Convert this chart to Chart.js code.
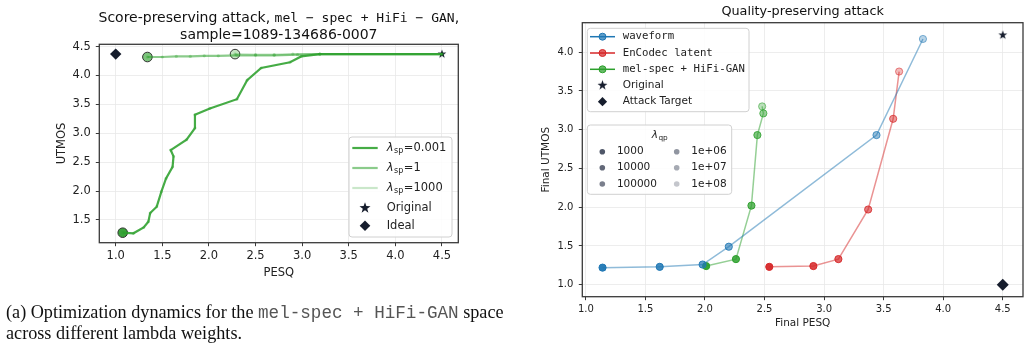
<!DOCTYPE html>
<html>
<head>
<meta charset="utf-8">
<script src="https://cdn.jsdelivr.net/npm/chart.js@4.4.0/dist/chart.umd.min.js"></script>
<style>
  body { margin: 0; width: 1030px; height: 349px; background: #fff; position: relative; overflow: hidden; }
  #boxLeft { position: absolute; left: 0; top: 0; width: 515px; height: 290px; }
  #boxRight { position: absolute; left: 520px; top: 0; width: 510px; height: 349px; }
  #caption { position: absolute; left: 6px; top: 302px; width: 520px; font-family: "Liberation Serif", "Times New Roman", serif; font-size: 18.2px; line-height: 20px; color: #111; white-space: nowrap; }
  #caption .tt { font-family: "Liberation Mono", monospace; color: #555; font-size: 17.6px; }
</style>
</head>
<body>
<div id="boxLeft"><canvas id="leftChart" width="515" height="290"></canvas></div>
<div id="boxRight"><canvas id="rightChart" width="510" height="349"></canvas></div>
<div id="caption">(a) Optimization dynamics for the <span class="tt">mel-spec + HiFi-GAN</span> space<br>across different lambda weights.</div>

<script>
// ---- Données : graphique de gauche (trajectoires, de l'original vers le point final)
const lambdaSpLabels = ['0.001', '1', '1000'];
const pesqSp0001 = [4.5, 3.19, 2.99, 2.87, 2.56, 2.41, 2.30, 2.01, 1.85, 1.85, 1.76, 1.59, 1.62, 1.61, 1.54, 1.49, 1.44, 1.37, 1.35, 1.30, 1.19, 1.075];
const utmosSp0001 = [4.37, 4.37, 4.33, 4.23, 4.13, 3.92, 3.59, 3.43, 3.32, 3.09, 2.89, 2.71, 2.60, 2.42, 2.22, 1.99, 1.73, 1.62, 1.47, 1.37, 1.27, 1.28];
const pesqSp1 = [4.5, 3.19, 2.95, 2.7, 2.5, 2.3, 2.1, 1.95, 1.8, 1.65, 1.5, 1.34];
const utmosSp1 = [4.37, 4.37, 4.36, 4.35, 4.35, 4.35, 4.34, 4.34, 4.33, 4.33, 4.32, 4.32];
const pesqSp1000 = [4.5, 3.19, 2.9, 2.7, 2.5, 2.28];
const utmosSp1000 = [4.37, 4.37, 4.37, 4.36, 4.36, 4.37];
const originalLeft = { x: 4.5, y: 4.37 };
const idealLeft = { x: 1.0, y: 4.37 };
const pesqTicksLeft = [1.0, 1.5, 2.0, 2.5, 3.0, 3.5, 4.0, 4.5];
const utmosTicksLeft = [1.5, 2.0, 2.5, 3.0, 3.5, 4.0, 4.5];

// ---- Données : graphique de droite (un point par lambda_qp)
const lambdaQpLabels = ['1000', '10000', '100000', '1e+06', '1e+07', '1e+08'];
const seriesNames = ['waveform', 'EnCodec latent', 'mel-spec + HiFi-GAN'];
const pesqWaveform = [1.14, 1.62, 1.98, 2.20, 3.44, 3.83];
const utmosWaveform = [1.22, 1.23, 1.26, 1.49, 2.93, 4.17];
const pesqEncodec = [2.54, 2.91, 3.12, 3.37, 3.58, 3.63];
const utmosEncodec = [1.23, 1.24, 1.33, 1.97, 3.14, 3.75];
const pesqMelspec = [2.01, 2.26, 2.39, 2.44, 2.49, 2.48];
const utmosMelspec = [1.24, 1.33, 2.02, 2.93, 3.21, 3.30];
const originalRight = { x: 4.5, y: 4.22 };
const targetRight = { x: 4.5, y: 1.0 };
const pesqTicksRight = [1.0, 1.5, 2.0, 2.5, 3.0, 3.5, 4.0, 4.5];
const utmosTicksRight = [1.0, 1.5, 2.0, 2.5, 3.0, 3.5, 4.0];

// ---- Styles
const SANS = '"DejaVu Sans", sans-serif';
const MONO = '"DejaVu Sans Mono", monospace';
const NAVY = '#161d2d';
const FRAME = '#3a3a3a';
const GRID = '#e9e9e9';
const greenLeft = ['rgba(44,160,44,0.88)', 'rgba(44,160,44,0.55)', 'rgba(44,160,44,0.25)'];
const greenEnd = ['#3aa33a', '#7cc47c', '#c4e4c1'];
const seriesRgb = ['31,119,180', '214,39,40', '44,160,44'];
const qpAlpha = [0.95, 0.85, 0.72, 0.6, 0.48, 0.32];

Chart.defaults.font.family = SANS;
Chart.defaults.color = '#222';

function zip(xs, ys) { return xs.map((x, i) => ({ x: x, y: ys[i] })); }
function last(arr) { return arr[arr.length - 1]; }

// étoile pleine, utilisée comme pointStyle
function starImage(r, color) {
  const c = document.createElement('canvas');
  const s = Math.ceil(r * 2 + 2);
  c.width = s; c.height = s;
  const g = c.getContext('2d');
  g.fillStyle = color;
  g.beginPath();
  for (let i = 0; i < 10; i++) {
    const rad = i % 2 ? r * 0.4 : r;
    const ang = -Math.PI / 2 + i * Math.PI / 5;
    g.lineTo(s / 2 + rad * Math.cos(ang), s / 2 + rad * Math.sin(ang));
  }
  g.closePath();
  g.fill();
  return c;
}

function drawFrame(chart) {
  const { ctx, chartArea: a } = chart;
  ctx.save();
  ctx.strokeStyle = FRAME;
  ctx.lineWidth = 1.3;
  ctx.strokeRect(a.left, a.top, a.right - a.left, a.bottom - a.top);
  ctx.restore();
}

function legendBox(ctx, x, y, w, h) {
  ctx.save();
  ctx.fillStyle = 'rgba(255,255,255,0.85)';
  ctx.strokeStyle = '#d0d0d0';
  ctx.lineWidth = 1;
  ctx.beginPath();
  ctx.roundRect(x, y, w, h, 3);
  ctx.fill();
  ctx.stroke();
  ctx.restore();
}

function drawDiamond(ctx, x, y, r, color) {
  ctx.fillStyle = color;
  ctx.beginPath();
  ctx.moveTo(x - r, y); ctx.lineTo(x, y - r); ctx.lineTo(x + r, y); ctx.lineTo(x, y + r);
  ctx.closePath();
  ctx.fill();
}

// λ en italique avec indice
function drawLambda(ctx, x, y, sub, rest, size) {
  ctx.font = 'italic ' + size + 'px ' + SANS;
  ctx.fillText('λ', x, y);
  x += ctx.measureText('λ').width + 0.5;
  ctx.font = (size * 0.7) + 'px ' + SANS;
  ctx.fillText(sub, x, y + size * 0.28);
  x += ctx.measureText(sub).width + 0.5;
  if (rest) {
    ctx.font = size + 'px ' + SANS;
    ctx.fillText(rest, x, y);
  }
}

function scaleOpts(min, max, ticksList, label, fontSize, side) {
  const isX = side === 'x';
  return {
    type: 'linear',
    min: min,
    max: max,
    afterBuildTicks: s => { s.ticks = ticksList.map(v => ({ value: v })); },
    ticks: { callback: v => v.toFixed(1), color: '#222', font: { size: fontSize }, padding: isX ? 3 : 5 },
    grid: { color: GRID, lineWidth: 0.8, tickColor: FRAME, tickLength: 3.5, tickWidth: 1 },
    border: { display: false },
    title: { display: true, text: label, color: '#222', font: { size: fontSize } }
  };
}

// ---------------- Graphique de gauche
const leftPlugin = {
  id: 'leftDecor',
  afterDraw(chart) {
    const ctx = chart.ctx;
    const a = chart.chartArea;
    drawFrame(chart);

    // titre sur deux lignes, police mixte
    ctx.save();
    ctx.fillStyle = '#111';
    ctx.textBaseline = 'middle';
    const parts = [['Score-preserving attack, ', '14px ' + SANS], ['mel − spec + HiFi − GAN', '13px ' + MONO], [',', '14px ' + SANS]];
    let total = 0;
    parts.forEach(p => { ctx.font = p[1]; total += ctx.measureText(p[0]).width; });
    let x = (a.left + a.right) / 2 - total / 2;
    parts.forEach(p => { ctx.font = p[1]; ctx.fillText(p[0], x, 18.5); x += ctx.measureText(p[0]).width; });
    ctx.font = '14px ' + SANS;
    ctx.textAlign = 'center';
    ctx.fillText('sample=1089-134686-0007', (a.left + a.right) / 2, 35);
    ctx.restore();

    // légende
    const bw = 103, bh = 100;
    const bx = a.right - 6.3 - bw, by = a.bottom - 5.7 - bh;
    legendBox(ctx, bx, by, bw, bh);
    ctx.save();
    ctx.textBaseline = 'middle';
    ctx.fillStyle = '#222';
    const rows = [11, 31, 51, 71, 88.7];
    lambdaSpLabels.forEach((lab, i) => {
      ctx.strokeStyle = greenLeft[i];
      ctx.lineWidth = 2.2;
      ctx.beginPath();
      ctx.moveTo(bx + 3.3, by + rows[i]);
      ctx.lineTo(bx + 28.7, by + rows[i]);
      ctx.stroke();
      ctx.fillStyle = '#222';
      drawLambda(ctx, bx + 37.7, by + rows[i], 'sp', '=' + lab, 11.5);
    });
    const st = starImage(5.8, NAVY);
    ctx.drawImage(st, bx + 16 - st.width / 2, by + rows[3] - st.height / 2);
    drawDiamond(ctx, bx + 16, by + rows[4], 5.3, NAVY);
    ctx.fillStyle = '#222';
    ctx.font = '11.5px ' + SANS;
    ctx.fillText('Original', bx + 37.7, by + rows[3]);
    ctx.fillText('Ideal', bx + 37.7, by + rows[4]);
    ctx.restore();
  }
};

const leftPaths = [[pesqSp0001, utmosSp0001], [pesqSp1, utmosSp1], [pesqSp1000, utmosSp1000]];
const leftDatasets = [];
[2, 1, 0].forEach(i => {
  leftDatasets.push({
    data: zip(leftPaths[i][0], leftPaths[i][1]),
    showLine: true,
    borderColor: greenLeft[i],
    borderWidth: 2.2,
    pointRadius: 1.6,
    pointBorderWidth: 0,
    pointBackgroundColor: greenLeft[i].replace(/[\d.]+\)$/, '0.3)')
  });
});
[2, 1, 0].forEach(i => {
  leftDatasets.push({
    data: [{ x: last(leftPaths[i][0]), y: last(leftPaths[i][1]) }],
    pointRadius: 4.8,
    pointBackgroundColor: greenEnd[i],
    pointBorderColor: '#333',
    pointBorderWidth: 1
  });
});
leftDatasets.push({ data: [originalLeft], pointStyle: starImage(4.6, NAVY) });
leftDatasets.push({ data: [idealLeft], pointStyle: 'rectRot', pointRadius: 5.7, pointBackgroundColor: NAVY, pointBorderWidth: 0 });

const lx = scaleOpts(0.824, 4.675, pesqTicksLeft, 'PESQ', 11.5, 'x');
lx.title.padding = { top: 0, bottom: 9.8 };
lx.afterFit = s => { s.height = 47.3; };
const ly = scaleOpts(1.107, 4.54, utmosTicksLeft, 'UTMOS', 11.5, 'y');
ly.title.padding = { top: 54.8, bottom: 0 };
ly.afterFit = s => { s.width = 99.3; };

new Chart(document.getElementById('leftChart'), {
  type: 'scatter',
  data: { datasets: leftDatasets },
  options: {
    responsive: false,
    animation: false,
    events: [],
    layout: { padding: { top: 44.3, right: 56.7, left: 0, bottom: 0 } },
    plugins: { legend: { display: false }, tooltip: { enabled: false } },
    scales: { x: lx, y: ly }
  },
  plugins: [leftPlugin]
});

// ---------------- Graphique de droite
const rightPlugin = {
  id: 'rightDecor',
  afterDraw(chart) {
    const ctx = chart.ctx;
    const a = chart.chartArea;
    drawFrame(chart);

    ctx.save();
    ctx.fillStyle = '#111';
    ctx.textBaseline = 'middle';
    ctx.textAlign = 'center';
    ctx.font = '12.8px ' + SANS;
    ctx.fillText('Quality-preserving attack', (a.left + a.right) / 2, 12);
    ctx.restore();

    // légende des séries
    const bx = a.left + 5, by = a.top + 5.6;
    legendBox(ctx, bx, by, 161.7, 83.4);
    ctx.save();
    ctx.textBaseline = 'middle';
    const rows = [8.4, 24.7, 41, 57, 73.4];
    seriesNames.forEach((name, i) => {
      const y = by + rows[i];
      ctx.strokeStyle = 'rgb(' + seriesRgb[i] + ')';
      ctx.lineWidth = 1.5;
      ctx.beginPath();
      ctx.moveTo(bx + 2.7, y); ctx.lineTo(bx + 27.7, y);
      ctx.stroke();
      ctx.fillStyle = 'rgba(' + seriesRgb[i] + ',0.72)';
      ctx.beginPath();
      ctx.arc(bx + 15.2, y, 3.5, 0, Math.PI * 2);
      ctx.fill();
      ctx.lineWidth = 1;
      ctx.stroke();
      ctx.fillStyle = '#222';
      ctx.font = '10.7px ' + MONO;
      ctx.fillText(name, bx + 35.4, y);
    });
    const st = starImage(5.2, NAVY);
    ctx.drawImage(st, bx + 15.2 - st.width / 2, by + rows[3] - st.height / 2);
    drawDiamond(ctx, bx + 15.2, by + rows[4], 4.6, NAVY);
    ctx.fillStyle = '#222';
    ctx.font = '10.5px ' + SANS;
    ctx.fillText('Original', bx + 35.4, by + rows[3]);
    ctx.fillText('Attack Target', bx + 35.4, by + rows[4]);
    ctx.restore();

    // légende lambda_qp
    const qx = a.left + 5, qy = a.top + 102.3;
    legendBox(ctx, qx, qy, 144.4, 69.3);
    ctx.save();
    ctx.textBaseline = 'middle';
    ctx.fillStyle = '#222';
    ctx.font = 'italic 10.5px ' + SANS;
    const wl = ctx.measureText('λ').width;
    ctx.font = (10.5 * 0.7) + 'px ' + SANS;
    const ws = ctx.measureText('qp').width;
    drawLambda(ctx, qx + 72.7 - (wl + ws + 1) / 2, qy + 10, 'qp', '', 10.5);
    const qRows = [26.7, 42.7, 59];
    lambdaQpLabels.forEach((lab, i) => {
      const col = i < 3 ? 0 : 1;
      const y = qy + qRows[i % 3];
      const dx = col === 0 ? 15 : 89.4;
      ctx.fillStyle = 'rgba(70,78,96,' + qpAlpha[i] + ')';
      ctx.beginPath();
      ctx.arc(qx + dx, y, 2.8, 0, Math.PI * 2);
      ctx.fill();
      ctx.fillStyle = '#222';
      ctx.font = '10.5px ' + SANS;
      ctx.fillText(lab, qx + dx + 14.6, y);
    });
    ctx.restore();
  }
};

const rightSeries = [[pesqWaveform, utmosWaveform], [pesqEncodec, utmosEncodec], [pesqMelspec, utmosMelspec]];
const rightDatasets = rightSeries.map((s, i) => ({
  data: zip(s[0], s[1]),
  showLine: true,
  borderColor: 'rgba(' + seriesRgb[i] + ',0.5)',
  borderWidth: 1.5,
  pointRadius: 3.6,
  pointBorderWidth: 1,
  pointBackgroundColor: qpAlpha.map(al => 'rgba(' + seriesRgb[i] + ',' + al + ')'),
  pointBorderColor: qpAlpha.map(al => 'rgba(' + seriesRgb[i] + ',' + (1 - (1 - al) * (1 - al)).toFixed(2) + ')')
}));
rightDatasets.push({ data: [originalRight], pointStyle: starImage(4.7, NAVY) });
rightDatasets.push({ data: [targetRight], pointStyle: 'rectRot', pointRadius: 6, pointBackgroundColor: NAVY, pointBorderWidth: 0 });

const rx = scaleOpts(0.97, 4.67, pesqTicksRight, 'Final PESQ', 10, 'x');
rx.title.font = { size: 10.5 };
rx.ticks.padding = 2.8;
rx.title.padding = { top: 0, bottom: 19.4 };
rx.afterFit = s => { s.height = 52.3; };
const ry = scaleOpts(0.845, 4.38, utmosTicksRight, 'Final UTMOS', 10, 'y');
ry.title.font = { size: 10.5 };
ry.ticks.padding = 5.5;
ry.title.padding = { top: 20.4, bottom: 0 };
ry.afterFit = s => { s.width = 62.3; };

new Chart(document.getElementById('rightChart'), {
  type: 'scatter',
  data: { datasets: rightDatasets },
  options: {
    responsive: false,
    animation: false,
    events: [],
    layout: { padding: { top: 22.7, right: 7, left: 0, bottom: 0 } },
    plugins: { legend: { display: false }, tooltip: { enabled: false } },
    scales: { x: rx, y: ry }
  },
  plugins: [rightPlugin]
});
</script>
</body>
</html>
